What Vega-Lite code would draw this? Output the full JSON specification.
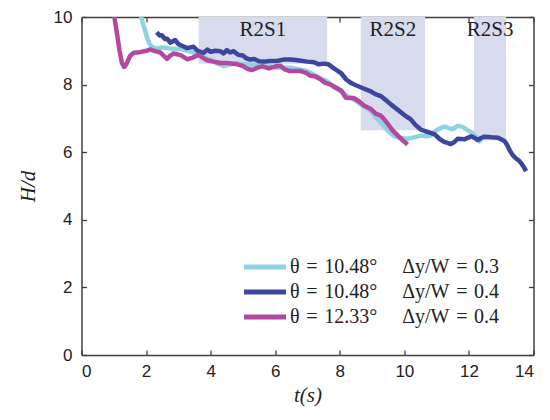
{
  "$schema": "https://vega.github.io/schema/vega-lite/v6.json",
  "width": 452,
  "height": 338,
  "autosize": {"type": "none"},
  "padding": {"left": 81.5, "top": 17, "right": 16.5, "bottom": 65},
  "background": "white",
  "config": {
    "view": {"stroke": null},
    "axis": {
      "grid": false,
      "domainColor": "#404040",
      "domainWidth": 1.5,
      "tickColor": "#404040",
      "tickWidth": 1.3,
      "tickSize": -5,
      "labelFont": "Liberation Sans",
      "labelFontSize": 17,
      "labelColor": "#222222",
      "titleFont": "Liberation Serif",
      "titleFontStyle": "italic",
      "titleFontWeight": "normal",
      "titleFontSize": 21,
      "titleColor": "#222222"
    },
    "legend": {
      "orient": "none",
      "legendX": 173.5,
      "legendY": 240,
      "padding": 0,
      "symbolType": "M-3,0H3",
      "symbolSize": 196,
      "symbolStrokeWidth": 5,
      "symbolFillColor": "transparent",
      "labelFont": "Liberation Serif",
      "labelFontSize": 20,
      "labelColor": "#222222",
      "labelOffset": 15,
      "rowPadding": 5,
      "labelLimit": 400
    }
  },
  "datasets": {
    "windows": [
      {"name": "R2S1", "t0": 3.63, "t1": 7.61, "tc": 5.62, "Hbot": 8.62, "Htop": 10},
      {"name": "R2S2", "t0": 8.65, "t1": 10.64, "tc": 9.645, "Hbot": 6.65, "Htop": 10},
      {"name": "R2S3", "t0": 12.16, "t1": 13.15, "tc": 12.655, "Hbot": 6.35, "Htop": 10}
    ],
    "runs": [
      {"run": "a", "t": 1.80, "H": 10.4},
      {"run": "a", "t": 1.85, "H": 10.0},
      {"run": "a", "t": 1.92, "H": 9.75},
      {"run": "a", "t": 1.97, "H": 9.6},
      {"run": "a", "t": 2.03, "H": 9.4},
      {"run": "a", "t": 2.10, "H": 9.22},
      {"run": "a", "t": 2.18, "H": 9.12},
      {"run": "a", "t": 2.33, "H": 9.06},
      {"run": "a", "t": 2.50, "H": 9.1},
      {"run": "a", "t": 2.65, "H": 9.08},
      {"run": "a", "t": 2.85, "H": 9.05},
      {"run": "a", "t": 3.06, "H": 9.06},
      {"run": "a", "t": 3.20, "H": 9.02},
      {"run": "a", "t": 3.37, "H": 8.98},
      {"run": "a", "t": 3.55, "H": 8.92},
      {"run": "a", "t": 3.75, "H": 8.82},
      {"run": "a", "t": 3.99, "H": 8.74},
      {"run": "a", "t": 4.20, "H": 8.62},
      {"run": "a", "t": 4.40, "H": 8.55},
      {"run": "a", "t": 4.60, "H": 8.6},
      {"run": "a", "t": 4.82, "H": 8.64},
      {"run": "a", "t": 5.00, "H": 8.6},
      {"run": "a", "t": 5.13, "H": 8.6},
      {"run": "a", "t": 5.35, "H": 8.58},
      {"run": "a", "t": 5.54, "H": 8.6},
      {"run": "a", "t": 5.80, "H": 8.55},
      {"run": "a", "t": 6.06, "H": 8.5},
      {"run": "a", "t": 6.30, "H": 8.5},
      {"run": "a", "t": 6.48, "H": 8.5},
      {"run": "a", "t": 6.75, "H": 8.45},
      {"run": "a", "t": 6.99, "H": 8.4},
      {"run": "a", "t": 7.15, "H": 8.32},
      {"run": "a", "t": 7.30, "H": 8.25},
      {"run": "a", "t": 7.45, "H": 8.16},
      {"run": "a", "t": 7.61, "H": 8.1},
      {"run": "a", "t": 7.81, "H": 7.92},
      {"run": "a", "t": 7.92, "H": 7.88},
      {"run": "a", "t": 8.10, "H": 7.75},
      {"run": "a", "t": 8.23, "H": 7.66},
      {"run": "a", "t": 8.40, "H": 7.58},
      {"run": "a", "t": 8.60, "H": 7.45},
      {"run": "a", "t": 8.75, "H": 7.35},
      {"run": "a", "t": 8.96, "H": 7.22},
      {"run": "a", "t": 9.10, "H": 7.05},
      {"run": "a", "t": 9.25, "H": 6.9},
      {"run": "a", "t": 9.37, "H": 6.77},
      {"run": "a", "t": 9.50, "H": 6.62},
      {"run": "a", "t": 9.68, "H": 6.48},
      {"run": "a", "t": 9.85, "H": 6.42},
      {"run": "a", "t": 10.10, "H": 6.4},
      {"run": "a", "t": 10.30, "H": 6.44},
      {"run": "a", "t": 10.51, "H": 6.49},
      {"run": "a", "t": 10.70, "H": 6.47},
      {"run": "a", "t": 10.82, "H": 6.5},
      {"run": "a", "t": 10.95, "H": 6.62},
      {"run": "a", "t": 11.13, "H": 6.72},
      {"run": "a", "t": 11.25, "H": 6.76},
      {"run": "a", "t": 11.40, "H": 6.7},
      {"run": "a", "t": 11.50, "H": 6.68},
      {"run": "a", "t": 11.65, "H": 6.78},
      {"run": "a", "t": 11.80, "H": 6.75},
      {"run": "a", "t": 11.95, "H": 6.66},
      {"run": "a", "t": 12.07, "H": 6.6},
      {"run": "a", "t": 12.20, "H": 6.48},
      {"run": "a", "t": 12.30, "H": 6.36},
      {"run": "a", "t": 12.38, "H": 6.28},

      {"run": "b", "t": 2.33, "H": 9.55},
      {"run": "b", "t": 2.42, "H": 9.45},
      {"run": "b", "t": 2.49, "H": 9.46},
      {"run": "b", "t": 2.58, "H": 9.35},
      {"run": "b", "t": 2.65, "H": 9.36},
      {"run": "b", "t": 2.75, "H": 9.24},
      {"run": "b", "t": 2.90, "H": 9.32},
      {"run": "b", "t": 3.00, "H": 9.2},
      {"run": "b", "t": 3.06, "H": 9.17},
      {"run": "b", "t": 3.18, "H": 9.12},
      {"run": "b", "t": 3.27, "H": 9.08},
      {"run": "b", "t": 3.37, "H": 9.1},
      {"run": "b", "t": 3.47, "H": 9.12},
      {"run": "b", "t": 3.60, "H": 9.0},
      {"run": "b", "t": 3.78, "H": 8.94},
      {"run": "b", "t": 3.90, "H": 9.04},
      {"run": "b", "t": 4.00, "H": 8.97},
      {"run": "b", "t": 4.15, "H": 9.0},
      {"run": "b", "t": 4.30, "H": 8.99},
      {"run": "b", "t": 4.40, "H": 8.92},
      {"run": "b", "t": 4.50, "H": 9.02},
      {"run": "b", "t": 4.60, "H": 8.95},
      {"run": "b", "t": 4.71, "H": 8.99},
      {"run": "b", "t": 4.85, "H": 8.88},
      {"run": "b", "t": 5.00, "H": 8.86},
      {"run": "b", "t": 5.10, "H": 8.78},
      {"run": "b", "t": 5.23, "H": 8.74},
      {"run": "b", "t": 5.35, "H": 8.76},
      {"run": "b", "t": 5.50, "H": 8.69},
      {"run": "b", "t": 5.65, "H": 8.68},
      {"run": "b", "t": 5.85, "H": 8.7},
      {"run": "b", "t": 6.06, "H": 8.7},
      {"run": "b", "t": 6.25, "H": 8.74},
      {"run": "b", "t": 6.48, "H": 8.74},
      {"run": "b", "t": 6.70, "H": 8.72},
      {"run": "b", "t": 6.99, "H": 8.68},
      {"run": "b", "t": 7.20, "H": 8.66},
      {"run": "b", "t": 7.35, "H": 8.6},
      {"run": "b", "t": 7.51, "H": 8.62},
      {"run": "b", "t": 7.65, "H": 8.6},
      {"run": "b", "t": 7.82, "H": 8.48},
      {"run": "b", "t": 8.03, "H": 8.35},
      {"run": "b", "t": 8.20, "H": 8.15},
      {"run": "b", "t": 8.34, "H": 8.05},
      {"run": "b", "t": 8.50, "H": 7.98},
      {"run": "b", "t": 8.70, "H": 7.9},
      {"run": "b", "t": 8.96, "H": 7.8},
      {"run": "b", "t": 9.10, "H": 7.72},
      {"run": "b", "t": 9.27, "H": 7.66},
      {"run": "b", "t": 9.45, "H": 7.52},
      {"run": "b", "t": 9.60, "H": 7.4},
      {"run": "b", "t": 9.79, "H": 7.26},
      {"run": "b", "t": 10.00, "H": 7.1},
      {"run": "b", "t": 10.20, "H": 6.97},
      {"run": "b", "t": 10.35, "H": 6.8},
      {"run": "b", "t": 10.51, "H": 6.67},
      {"run": "b", "t": 10.65, "H": 6.62},
      {"run": "b", "t": 10.82, "H": 6.57},
      {"run": "b", "t": 10.95, "H": 6.52},
      {"run": "b", "t": 11.08, "H": 6.4},
      {"run": "b", "t": 11.20, "H": 6.32},
      {"run": "b", "t": 11.35, "H": 6.27},
      {"run": "b", "t": 11.44, "H": 6.24},
      {"run": "b", "t": 11.55, "H": 6.3},
      {"run": "b", "t": 11.65, "H": 6.4},
      {"run": "b", "t": 11.86, "H": 6.38},
      {"run": "b", "t": 12.07, "H": 6.47},
      {"run": "b", "t": 12.18, "H": 6.42},
      {"run": "b", "t": 12.27, "H": 6.36},
      {"run": "b", "t": 12.38, "H": 6.42},
      {"run": "b", "t": 12.48, "H": 6.46},
      {"run": "b", "t": 12.70, "H": 6.44},
      {"run": "b", "t": 12.90, "H": 6.43},
      {"run": "b", "t": 13.10, "H": 6.33},
      {"run": "b", "t": 13.18, "H": 6.22},
      {"run": "b", "t": 13.26, "H": 6.06},
      {"run": "b", "t": 13.35, "H": 5.92},
      {"run": "b", "t": 13.45, "H": 5.82},
      {"run": "b", "t": 13.55, "H": 5.75},
      {"run": "b", "t": 13.62, "H": 5.67},
      {"run": "b", "t": 13.70, "H": 5.56},
      {"run": "b", "t": 13.77, "H": 5.44},

      {"run": "c", "t": 0.97, "H": 10.4},
      {"run": "c", "t": 1.02, "H": 10.0},
      {"run": "c", "t": 1.10, "H": 9.5},
      {"run": "c", "t": 1.18, "H": 9.0},
      {"run": "c", "t": 1.25, "H": 8.65},
      {"run": "c", "t": 1.32, "H": 8.52},
      {"run": "c", "t": 1.40, "H": 8.62},
      {"run": "c", "t": 1.50, "H": 8.84},
      {"run": "c", "t": 1.61, "H": 8.94},
      {"run": "c", "t": 1.80, "H": 8.96},
      {"run": "c", "t": 2.02, "H": 9.0},
      {"run": "c", "t": 2.13, "H": 9.04},
      {"run": "c", "t": 2.25, "H": 9.0},
      {"run": "c", "t": 2.44, "H": 8.95},
      {"run": "c", "t": 2.55, "H": 8.85},
      {"run": "c", "t": 2.65, "H": 8.76},
      {"run": "c", "t": 2.75, "H": 8.86},
      {"run": "c", "t": 2.85, "H": 8.92},
      {"run": "c", "t": 2.96, "H": 8.9},
      {"run": "c", "t": 3.10, "H": 8.86},
      {"run": "c", "t": 3.27, "H": 8.75},
      {"run": "c", "t": 3.45, "H": 8.8},
      {"run": "c", "t": 3.63, "H": 8.88},
      {"run": "c", "t": 3.75, "H": 8.8},
      {"run": "c", "t": 3.89, "H": 8.72},
      {"run": "c", "t": 4.10, "H": 8.68},
      {"run": "c", "t": 4.30, "H": 8.64},
      {"run": "c", "t": 4.50, "H": 8.64},
      {"run": "c", "t": 4.82, "H": 8.6},
      {"run": "c", "t": 5.00, "H": 8.55},
      {"run": "c", "t": 5.15, "H": 8.46},
      {"run": "c", "t": 5.29, "H": 8.43},
      {"run": "c", "t": 5.45, "H": 8.5},
      {"run": "c", "t": 5.60, "H": 8.54},
      {"run": "c", "t": 5.80, "H": 8.48},
      {"run": "c", "t": 6.01, "H": 8.54},
      {"run": "c", "t": 6.16, "H": 8.56},
      {"run": "c", "t": 6.30, "H": 8.45},
      {"run": "c", "t": 6.45, "H": 8.4},
      {"run": "c", "t": 6.79, "H": 8.4},
      {"run": "c", "t": 6.95, "H": 8.35},
      {"run": "c", "t": 7.10, "H": 8.26},
      {"run": "c", "t": 7.25, "H": 8.24},
      {"run": "c", "t": 7.41, "H": 8.15},
      {"run": "c", "t": 7.55, "H": 8.05},
      {"run": "c", "t": 7.72, "H": 8.0},
      {"run": "c", "t": 7.90, "H": 7.9},
      {"run": "c", "t": 8.05, "H": 7.82},
      {"run": "c", "t": 8.18, "H": 7.62},
      {"run": "c", "t": 8.30, "H": 7.6},
      {"run": "c", "t": 8.44, "H": 7.6},
      {"run": "c", "t": 8.60, "H": 7.5},
      {"run": "c", "t": 8.75, "H": 7.38},
      {"run": "c", "t": 8.96, "H": 7.28},
      {"run": "c", "t": 9.11, "H": 7.14},
      {"run": "c", "t": 9.27, "H": 7.08},
      {"run": "c", "t": 9.37, "H": 6.98},
      {"run": "c", "t": 9.50, "H": 6.82},
      {"run": "c", "t": 9.63, "H": 6.65},
      {"run": "c", "t": 9.79, "H": 6.5},
      {"run": "c", "t": 9.95, "H": 6.35},
      {"run": "c", "t": 10.10, "H": 6.23}
    ]
  },
  "layer": [
    {
      "data": {"name": "windows"},
      "mark": {"type": "rect", "color": "#d8dbee", "opacity": 1},
      "encoding": {
        "x": {"field": "t0", "type": "quantitative", "scale": {"domain": [0, 14], "nice": false},
              "axis": {"orient": "bottom", "values": [0, 2, 4, 6, 8, 10, 12, 14], "title": "t(s)", "labelPadding": 13, "titlePadding": 5}},
        "x2": {"field": "t1"},
        "y": {"field": "Htop", "type": "quantitative", "scale": {"domain": [0, 10], "nice": false},
              "axis": {"orient": "left", "values": [0, 2, 4, 6, 8, 10], "title": "H/d", "labelPadding": 14.5, "titlePadding": 15}},
        "y2": {"field": "Hbot"}
      }
    },
    {
      "data": {"name": "windows"},
      "mark": {"type": "text", "font": "Liberation Serif", "fontSize": 21, "color": "#222222", "baseline": "middle", "align": "center"},
      "encoding": {
        "x": {"field": "tc", "type": "quantitative", "axis": null},
        "y": {"datum": 9.63, "type": "quantitative", "axis": null},
        "text": {"field": "name"}
      }
    },
    {
      "data": {"name": "runs"},
      "mark": {"type": "line", "strokeWidth": 4.5, "strokeJoin": "round", "clip": true},
      "encoding": {
        "x": {"field": "t", "type": "quantitative", "axis": null},
        "y": {"field": "H", "type": "quantitative", "axis": null},
        "order": {"field": "t"},
        "color": {
          "field": "run",
          "type": "nominal",
          "scale": {
            "domain": ["a", "b", "c"],
            "range": ["#8dd3e0", "#3d469e", "#b4489e"]
          },
          "legend": {
            "title": null,
            "labelExpr": "{'a': 'θ\u2004=\u200410.48°\u00a0\u00a0\u00a0\u00a0\u00a0Δy/W\u2004=\u20040.3', 'b': 'θ\u2004=\u200410.48°\u00a0\u00a0\u00a0\u00a0\u00a0Δy/W\u2004=\u20040.4', 'c': 'θ\u2004=\u200412.33°\u00a0\u00a0\u00a0\u00a0\u00a0Δy/W\u2004=\u20040.4'}[datum.value]"
          }
        }
      }
    },
    {
      "data": {"name": "windows"},
      "mark": {"type": "point", "opacity": 0},
      "encoding": {
        "x": {"field": "t0", "type": "quantitative",
              "axis": {"orient": "top", "values": [0, 2, 4, 6, 8, 10, 12, 14], "labels": false, "title": null}},
        "y": {"field": "Hbot", "type": "quantitative",
              "axis": {"orient": "right", "values": [0, 2, 4, 6, 8, 10], "labels": false, "title": null}}
      }
    }
  ],
  "resolve": {"axis": {"x": "independent", "y": "independent"}}
}
